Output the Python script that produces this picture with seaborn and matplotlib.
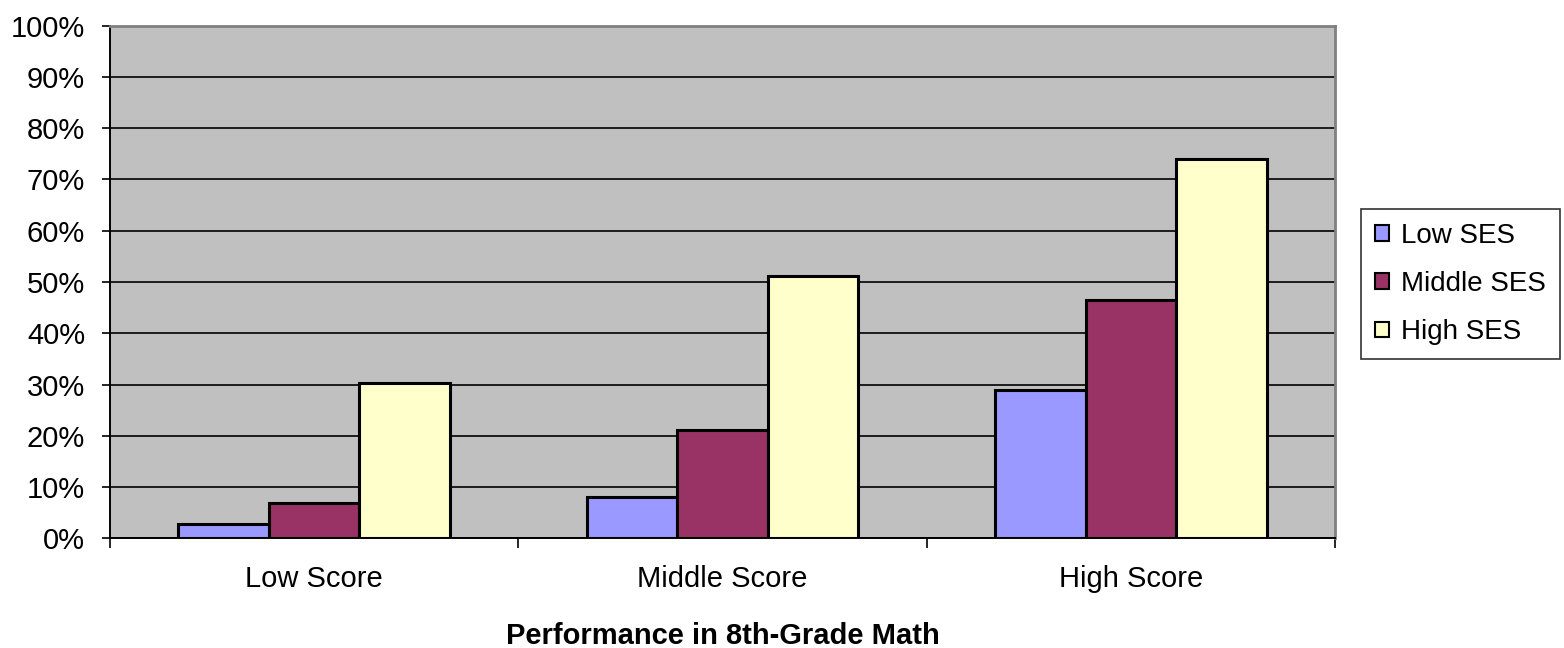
import matplotlib
matplotlib.use("Agg")
import matplotlib.pyplot as plt
import seaborn as sns
import pandas as pd
from matplotlib.ticker import FixedLocator, PercentFormatter

# Share of students (%) by 8th-grade math performance and SES
categories = ["Low Score", "Middle Score", "High Score"]
groups = ["Low SES", "Middle SES", "High SES"]
low_ses = [2.7, 8.1, 28.9]
middle_ses = [6.8, 21.1, 46.5]
high_ses = [30.3, 51.2, 74.0]
y_ticks = [0, 10, 20, 30, 40, 50, 60, 70, 80, 90, 100]
x_title = "Performance in 8th-Grade Math"

colors = ["#9999FF", "#993366", "#FFFFCC"]

df = pd.DataFrame({
    "category": categories * 3,
    "group": [groups[0]] * 3 + [groups[1]] * 3 + [groups[2]] * 3,
    "value": low_ses + middle_ses + high_ses,
})

sns.set_theme(style="white")
plt.rcParams["font.family"] = ["Liberation Sans", "DejaVu Sans"]
plt.rcParams["text.color"] = "black"
plt.rcParams["xtick.labelcolor"] = "black"
plt.rcParams["ytick.labelcolor"] = "black"

fig = plt.figure(figsize=(15.64, 6.48), dpi=100)
ax = fig.add_axes([110 / 1564, 1 - 538.3 / 648, (1335 - 110) / 1564, (538.3 - 25.7) / 648])
ax.set_facecolor("#C0C0C0")

sns.barplot(data=df, x="category", y="value", hue="group", order=categories,
            hue_order=groups, palette=colors, width=0.666, gap=0,
            edgecolor="black", linewidth=2.2, saturation=1, ax=ax, zorder=3)

ax.set_ylim(0, 100)
ax.set_xlim(-0.5, 2.5)
ax.yaxis.set_major_locator(FixedLocator(y_ticks))
ax.yaxis.set_major_formatter(PercentFormatter(decimals=0))
ax.grid(axis="y", color="black", linewidth=1.2, zorder=1)
ax.grid(axis="x", visible=False)
ax.set_axisbelow(True)

ax.tick_params(axis="y", which="major", length=6, width=1.2, color="black",
               direction="out", pad=12, labelsize=21, left=True,
               labelcolor="black")
ax.tick_params(axis="x", which="major", length=0, pad=19, labelsize=21,
               labelcolor="black")
ax.xaxis.set_minor_locator(FixedLocator([-0.5, 0.5, 1.5, 2.5]))
ax.tick_params(axis="x", which="minor", length=7, width=1.2, color="black",
               direction="out", bottom=True)

for side in ["left", "bottom"]:
    ax.spines[side].set_color("black")
    ax.spines[side].set_linewidth(1.4)
for side in ["top", "right"]:
    ax.spines[side].set_visible(True)
    ax.spines[side].set_color("#808080")
    ax.spines[side].set_linewidth(2)

ax.set_ylabel("")
ax.set_xlabel("")
fig.text(722.5 / 1564, 1 - 636.5 / 648, x_title, ha="center", va="center",
         fontsize=21, fontweight="bold", color="black")

handles, labels = ax.get_legend_handles_labels()
if ax.legend_:
    ax.legend_.remove()
leg = fig.legend(handles, labels, loc="upper left",
                 bbox_to_anchor=(1361 / 1564, 1 - 209 / 648),
                 fontsize=20, frameon=True, fancybox=False, shadow=False,
                 handlelength=0.5, handleheight=0.5, handletextpad=0.45,
                 labelspacing=0.8, borderpad=0.5, borderaxespad=0,
                 labelcolor="black")
leg.get_frame().set_edgecolor("black")
leg.get_frame().set_linewidth(1.2)
for h in leg.legend_handles:
    h.set_edgecolor("black")
    h.set_linewidth(1.5)

fig.savefig("out.png", dpi=100, facecolor="white")
